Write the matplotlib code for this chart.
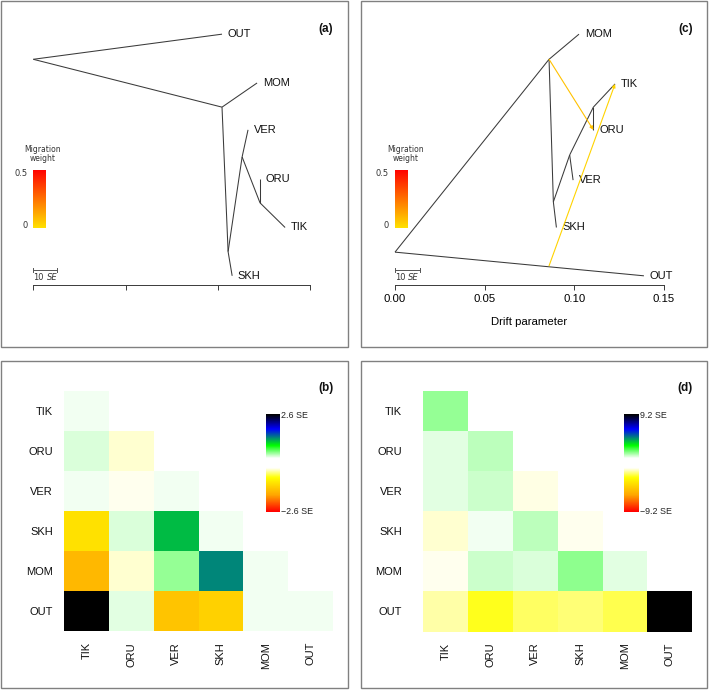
import numpy as np
import matplotlib
matplotlib.use('Agg')
import matplotlib.pyplot as plt
from matplotlib.colors import LinearSegmentedColormap
from matplotlib.patches import Rectangle

plt.rcParams['font.family'] = ['Liberation Sans', 'DejaVu Sans']

# ---------------- data ----------------
pops = ['TIK', 'ORU', 'VER', 'SKH', 'MOM', 'OUT']

node_names = ['root', 'A', 'B', 'C', 'D', 'OUT', 'MOM', 'SKH', 'VER', 'ORU', 'TIK']
node_parent = [None, 'root', 'A', 'B', 'C', 'root', 'A', 'B', 'C', 'D', 'D']

# tree (a): no migration edge
tree_a_drift = [0.0, 0.1023, 0.1056, 0.1132, 0.1229, 0.1023, 0.1213, 0.1078, 0.1164, 0.1229, 0.1365]
tree_a_ypos = [5.48, 4.49, 1.50, 3.46, 2.51, 6.0, 4.99, 1.0, 4.02, 3.0, 2.0]
scale_a = 0.0127          # drift length of 10 SE

# tree (c): two migration edges
tree_c_drift = [0.0, 0.0859, 0.0883, 0.0974, 0.1106, 0.1388, 0.1026, 0.0900, 0.0993, 0.1106, 0.1227]
tree_c_ypos = [1.49, 5.48, 2.53, 3.50, 4.49, 1.0, 6.0, 2.0, 2.98, 4.02, 4.97]
scale_c = 0.0139
mig_src_drift = [0.0859, 0.0859]
mig_src_ypos = [5.48, 1.207]
mig_target = ['ORU', 'TIK']
mig_weight = [0.07, 0.03]

drift_ticks = [0.00, 0.05, 0.10, 0.15]
drift_ticklabels = ['0.00', '0.05', '0.10', '0.15']

# residual matrices (lower triangle, rows/cols in order of pops), in SE
resid_b = [
    [0.29],
    [0.35, -0.36],
    [0.29, -0.29, 0.29],
    [-1.09, 0.35, 1.16, 0.29],
    [-1.51, -0.35, 0.54, 1.35, 0.29],
    [2.6, 0.34, -1.40, -1.25, 0.29, 0.29],
]
resid_b_max = 2.6
resid_d = [
    [1.90],
    [1.21, 1.57],
    [1.21, 1.40, -1.14],
    [-1.25, 1.07, 1.57, -1.01],
    [-1.07, 1.40, 1.25, 1.95, 1.21],
    [-1.53, -2.54, -2.04, -1.93, -2.21, 9.2],
]
resid_d_max = 9.2

# ---------------- helpers ----------------
W, H = 709, 690
fig = plt.figure(figsize=(W / 100, H / 100), dpi=100)


def rect(l, t, r, b):
    return [l / W, 1 - b / H, (r - l) / W, (b - t) / H]


resid_cmap = LinearSegmentedColormap.from_list(
    'resid', [(0, '#FF0000'), (0.17, '#FFA500'), (0.35, '#FFFF00'), (0.45, '#FFFFFF'),
              (0.55, '#FFFFFF'), (0.68, '#00FF00'), (0.85, '#0000FF'), (1.0, '#000000')])
mig_cmap = LinearSegmentedColormap.from_list('mig', ['#FFE000', '#FF0000'])

LINE = '#3a3a3a'
BORDER = '#808080'

# panel borders
for (l, t, r, b) in [(1, 1, 348, 347), (1, 361, 348, 688), (361, 1, 707, 347), (361, 361, 707, 688)]:
    fig.patches.append(Rectangle((l / W, 1 - b / H), (r - l) / W, (b - t) / H,
                                 transform=fig.transFigure, fill=False,
                                 edgecolor=BORDER, linewidth=1.0))


def draw_tree(ax_px, drift, ypos, scale_len, labels_on, leg_px, leg_title_x):
    ax = fig.add_axes(rect(*ax_px))
    ax.set_xlim(0, 0.15)
    ax.set_ylim(0.81, 6.5)
    ax.patch.set_alpha(0)
    for s in ['top', 'right', 'left']:
        ax.spines[s].set_visible(False)
    ax.spines['bottom'].set_color(LINE)
    ax.spines['bottom'].set_linewidth(0.7)
    ax.set_yticks([])
    ax.set_xticks(drift_ticks)
    ax.tick_params(axis='x', direction='out', length=3.6, width=0.7, color=LINE,
                   labelsize=8.2, pad=3)
    if labels_on:
        ax.set_xticklabels(drift_ticklabels)
        ax.set_xlabel('Drift parameter', fontsize=8.2, labelpad=9.5)
    else:
        ax.set_xticklabels([])
    idx = {n: i for i, n in enumerate(node_names)}
    for i, p in enumerate(node_parent):
        if p is None:
            continue
        j = idx[p]
        ax.plot([drift[j], drift[i]], [ypos[j], ypos[i]], color=LINE, lw=0.75,
                solid_capstyle='butt', clip_on=False)
    for n in ['OUT', 'MOM', 'SKH', 'VER', 'ORU', 'TIK']:
        i = idx[n]
        ax.annotate(n, (drift[i], ypos[i]), xytext=(4.1, 0), textcoords='offset points',
                    ha='left', va='center', fontsize=8, color='#111111')
    # scale bar
    yb = 1.12
    ax.plot([0, scale_len], [yb, yb], color='#555555', lw=0.7, clip_on=False)
    for xx in [0, scale_len]:
        ax.plot([xx, xx], [yb - 0.048, yb + 0.048], color='#555555', lw=0.7, clip_on=False)
    ax.annotate('10', (0, 0.955), fontsize=6, family='DejaVu Sans', ha='left', va='center',
                color='#333333', annotation_clip=False)
    ax.annotate('SE', (0, 0.955), xytext=(9.6, 0), textcoords='offset points',
                fontsize=6, family='DejaVu Sans', style='italic',
                ha='left', va='center', color='#333333', annotation_clip=False)
    # migration weight legend
    lax = fig.add_axes(rect(*leg_px))
    grad = np.linspace(0.5, 0, 100).reshape(-1, 1)
    lax.imshow(grad, aspect='auto', cmap=mig_cmap, vmin=0, vmax=0.5)
    lax.set_axis_off()
    l, t, r, b = leg_px
    fig.text((l - 6) / W, 1 - (t + 3.5) / H, '0.5', fontsize=6, family='DejaVu Sans',
             ha='right', va='center', color='#333333')
    fig.text((l - 6) / W, 1 - (b - 2) / H, '0', fontsize=6, family='DejaVu Sans',
             ha='right', va='center', color='#333333')
    fig.text(leg_title_x / W, 1 - 149 / H, 'Migration', fontsize=5.5, family='DejaVu Sans',
             ha='center', va='center', color='#333333')
    fig.text(leg_title_x / W, 1 - 158.5 / H, 'weight', fontsize=5.5, family='DejaVu Sans',
             ha='center', va='center', color='#333333')
    return ax


ax_a = draw_tree((33.3, 10, 310, 285), tree_a_drift, tree_a_ypos, scale_a, False,
                 (33.3, 169.5, 46, 227.7), 42.8)
ax_c = draw_tree((395, 10, 664, 285), tree_c_drift, tree_c_ypos, scale_c, True,
                 (394.7, 169.5, 407.3, 227.7), 406)

idx = {n: i for i, n in enumerate(node_names)}
for sx, sy, tgt, w in zip(mig_src_drift, mig_src_ypos, mig_target, mig_weight):
    j = idx[tgt]
    col = mig_cmap(w / 0.5)
    ax_c.annotate('', xy=(tree_c_drift[j], tree_c_ypos[j]), xytext=(sx, sy),
                  arrowprops=dict(arrowstyle='-|>', color=col, lw=0.8, mutation_scale=5,
                                  shrinkA=0, shrinkB=0))


def draw_resid(ax_px, data, vmax, ylabpad, cb_px, cb_label):
    ax = fig.add_axes(rect(*ax_px))
    n = len(pops)
    M = np.full((n, n), np.nan)
    for i, row in enumerate(data):
        for j, v in enumerate(row):
            M[i, j] = v
    Mm = np.ma.masked_invalid(M)
    ax.pcolormesh(np.arange(n + 1), np.arange(n + 1), Mm, cmap=resid_cmap,
                  vmin=-vmax, vmax=vmax, edgecolors='none')
    ax.set_xlim(0, n)
    ax.set_ylim(n, 0)
    for s in ax.spines.values():
        s.set_visible(False)
    ax.set_xticks(np.arange(n) + 0.5)
    ax.set_xticklabels(pops, rotation=90, fontsize=8, color='#111111')
    ax.set_yticks(np.arange(n) + 0.5)
    ax.set_yticklabels(pops, fontsize=8, color='#111111')
    ax.tick_params(axis='x', length=0, pad=7.9)
    ax.tick_params(axis='y', length=0, pad=ylabpad)
    cax = fig.add_axes(rect(*cb_px))
    grad = np.linspace(vmax, -vmax, 200).reshape(-1, 1)
    cax.imshow(grad, aspect='auto', cmap=resid_cmap, vmin=-vmax, vmax=vmax)
    cax.set_axis_off()
    l, t, r, b = cb_px
    fig.text((r + 1.5) / W, 1 - (t + 1.5) / H, cb_label, fontsize=6.4, ha='left',
             va='center', color='#222222')
    fig.text((r + 1.5) / W, 1 - (b - 0.5) / H, '\u2212' + cb_label, fontsize=6.4,
             ha='left', va='center', color='#222222')
    return ax


draw_resid((64, 390.7, 333, 631), resid_b, resid_b_max, 7.9,
           (265.7, 414, 279.3, 512), '2.6 SE')
draw_resid((423, 390.7, 692.3, 631.5), resid_d, resid_d_max, 14.9,
           (624, 414, 638.3, 511.7), '9.2 SE')

# panel letters
for lab, x, y in [('(a)', 325.8, 29), ('(c)', 686, 29), ('(b)', 326.3, 388), ('(d)', 685, 388)]:
    fig.text(x / W, 1 - y / H, lab, fontsize=8.5, fontweight='bold', ha='center',
             va='center', color='#111111')

fig.savefig('out.png', dpi=100)
